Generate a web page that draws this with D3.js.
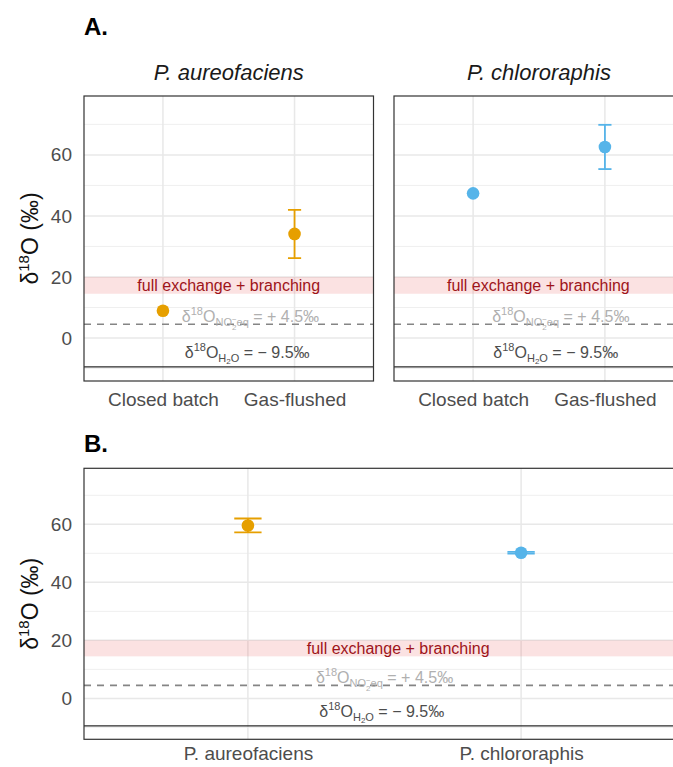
<!DOCTYPE html>
<html>
<head>
<meta charset="utf-8">
<script src="https://cdn.jsdelivr.net/npm/d3@7"></script>
<style>
  html, body { margin: 0; padding: 0; background: #fff; overflow: hidden; }
  svg { display: block; font-family: "Liberation Sans", Arial, sans-serif; }
</style>
</head>
<body>
<svg id="chart" width="673" height="767"></svg>
<script>
// ---- data ----
const strains = ["P. aureofaciens", "P. chlororaphis"];
const methods = ["Closed batch", "Gas-flushed"];
const strainColors = ["#E69F00", "#56B4E9"];

// Panel A: mean and sd of d18O per incubation method
const aureoMean = [8.9, 34.1];
const aureoSd = [null, 7.9];
const chloroMean = [47.4, 62.6];
const chloroSd = [null, 7.25];

// Panel B: mean and sd per strain
const strainMean = [59.6, 50.2];
const strainSd = [2.4, 0.3];

// reference levels
const waterLevel = -9.5;
const nitriteEqLevel = 4.5;
const exchangeBand = [14.5, 20];

const yDomain = [-14.1, 79.3];
const yMajor = [0, 20, 40, 60];
const yMinor = [-10, 10, 30, 50, 70];

// ---- drawing ----
const svg = d3.select("#chart");
const FONT_AXIS = 19;

function panel(cfg) {
  const g = svg.append("g");
  const x = d3.scalePoint().domain(cfg.cats).range([cfg.left, cfg.right]).padding(0.6);
  const step = x.step();
  // continuous companion for annotation placement (category 1 -> index 1)
  const xc = d3.scaleLinear().domain([0.4, cfg.cats.length + 0.6]).range([cfg.left, cfg.right]);
  const y = d3.scaleLinear().domain(yDomain).range([cfg.bottom, cfg.top]);

  const clipId = "clip" + cfg.id;
  svg.append("clipPath").attr("id", clipId).append("rect")
    .attr("x", cfg.left).attr("y", cfg.top)
    .attr("width", cfg.right - cfg.left).attr("height", cfg.bottom - cfg.top);
  const inner = g.append("g").attr("clip-path", `url(#${clipId})`);

  // grid
  inner.selectAll(".minor").data(yMinor).join("line")
    .attr("x1", cfg.left).attr("x2", cfg.right)
    .attr("y1", d => y(d)).attr("y2", d => y(d))
    .attr("stroke", "#efefef").attr("stroke-width", 1);
  inner.selectAll(".major").data(yMajor).join("line")
    .attr("x1", cfg.left).attr("x2", cfg.right)
    .attr("y1", d => y(d)).attr("y2", d => y(d))
    .attr("stroke", "#e8e8e8").attr("stroke-width", 1.5);
  inner.selectAll(".vmajor").data(cfg.cats).join("line")
    .attr("x1", d => x(d)).attr("x2", d => x(d))
    .attr("y1", cfg.top).attr("y2", cfg.bottom)
    .attr("stroke", "#e8e8e8").attr("stroke-width", 1.5);

  // exchange band
  inner.append("rect")
    .attr("x", cfg.left).attr("width", cfg.right - cfg.left)
    .attr("y", y(exchangeBand[1])).attr("height", y(exchangeBand[0]) - y(exchangeBand[1]))
    .attr("fill", "#e8494c").attr("fill-opacity", 0.16);
  inner.append("text")
    .attr("x", xc(cfg.bandLabelX)).attr("y", y((exchangeBand[0] + exchangeBand[1]) / 2))
    .attr("dy", "0.35em").attr("text-anchor", "middle")
    .attr("font-size", 16).attr("fill", "#9e141a")
    .text("full exchange + branching");

  // reference lines
  inner.append("line")
    .attr("x1", cfg.left).attr("x2", cfg.right)
    .attr("y1", y(nitriteEqLevel)).attr("y2", y(nitriteEqLevel))
    .attr("stroke", "#858585").attr("stroke-width", 1.6).attr("stroke-dasharray", "7,6");
  inner.append("line")
    .attr("x1", cfg.left).attr("x2", cfg.right)
    .attr("y1", y(waterLevel)).attr("y2", y(waterLevel))
    .attr("stroke", "#2b2b2b").attr("stroke-width", 1.3);

  // reference labels
  richText(inner, xc(cfg.nitriteLabelX), y(5.2), "#b0b0b0", [
    { t: "δ", s: 16, up: 0 },
    { t: "18", s: 11, up: 7 },
    { t: "O", s: 16, up: 0 },
    { t: "NO", s: 11, up: -4 },
    { t: "2", s: 8, up: -8 },
    { t: "−", s: 8, up: 0, dx: -4.5 },
    { t: "eq", s: 11, up: -4 },
    { t: " = + 4.5‰", s: 16, up: 0 }
  ]);
  richText(inner, xc(cfg.waterLabelX), y(-6.4), "#4d4d4d", [
    { t: "δ", s: 16, up: 0 },
    { t: "18", s: 11, up: 7 },
    { t: "O", s: 16, up: 0 },
    { t: "H", s: 11, up: -4 },
    { t: "2", s: 8, up: -6 },
    { t: "O", s: 11, up: -4 },
    { t: " = − 9.5‰", s: 16, up: 0 }
  ]);

  // error bars and points
  const pts = cfg.cats.map((c, i) => ({ c, m: cfg.mean[i], sd: cfg.sd[i], col: cfg.color(i) }));
  const capHalf = step * 0.05;
  const eb = inner.selectAll(".eb").data(pts.filter(d => d.sd != null)).join("g")
    .attr("stroke", d => d.col).attr("stroke-width", 1.8).attr("fill", "none");
  eb.append("line").attr("x1", d => x(d.c)).attr("x2", d => x(d.c))
    .attr("y1", d => y(d.m - d.sd)).attr("y2", d => y(d.m + d.sd));
  eb.append("line").attr("x1", d => x(d.c) - capHalf).attr("x2", d => x(d.c) + capHalf)
    .attr("y1", d => y(d.m + d.sd)).attr("y2", d => y(d.m + d.sd));
  eb.append("line").attr("x1", d => x(d.c) - capHalf).attr("x2", d => x(d.c) + capHalf)
    .attr("y1", d => y(d.m - d.sd)).attr("y2", d => y(d.m - d.sd));
  inner.selectAll(".pt").data(pts).join("circle")
    .attr("cx", d => x(d.c)).attr("cy", d => y(d.m)).attr("r", 6.3)
    .attr("fill", d => d.col);

  // border
  g.append("rect")
    .attr("x", cfg.left).attr("y", cfg.top)
    .attr("width", cfg.right - cfg.left).attr("height", cfg.bottom - cfg.top)
    .attr("fill", "none").attr("stroke", "#333").attr("stroke-width", 1.2);

  // axes
  if (cfg.yAxis) {
    const ya = g.append("g").attr("transform", `translate(${cfg.left},0)`)
      .call(d3.axisLeft(y).tickValues(yMajor).tickSize(0).tickPadding(12));
    ya.select(".domain").remove();
    ya.selectAll("text").attr("font-size", FONT_AXIS).attr("fill", "#4d4d4d")
      .attr("font-family", "Liberation Sans, Arial, sans-serif");
    // y title
    const ty = g.append("text")
      .attr("transform", `translate(38,${(cfg.top + cfg.bottom) / 2}) rotate(-90)`)
      .attr("text-anchor", "middle").attr("font-size", 23).attr("fill", "#111");
    ty.append("tspan").text("δ");
    ty.append("tspan").attr("font-size", 15).attr("dy", -9).text("18");
    ty.append("tspan").attr("dy", 9).text("O (‰)");
  }
  const xa = g.append("g").attr("transform", `translate(0,${cfg.bottom})`)
    .call(d3.axisBottom(x).tickSize(0).tickPadding(cfg.xPad));
  xa.select(".domain").remove();
  xa.selectAll("text").attr("font-size", FONT_AXIS).attr("fill", "#4d4d4d")
    .attr("font-family", "Liberation Sans, Arial, sans-serif");

  if (cfg.strip) {
    g.append("text").attr("x", (cfg.left + cfg.right) / 2).attr("y", cfg.top - 16)
      .attr("text-anchor", "middle").attr("font-size", 22).attr("font-style", "italic")
      .attr("fill", "#1a1a1a").text(cfg.strip);
  }
}

function richText(sel, cx, baseY, color, parts) {
  const t = sel.append("text").attr("x", cx).attr("y", baseY)
    .attr("text-anchor", "middle").attr("fill", color);
  let prev = 0;
  parts.forEach(p => {
    const ts = t.append("tspan").attr("font-size", p.s).attr("dy", -(p.up - prev)).text(p.t);
    if (p.dx) ts.attr("dx", p.dx);
    prev = p.up;
  });
}

// Panel A
svg.append("text").attr("x", 84).attr("y", 35).attr("font-size", 24)
  .attr("font-weight", "bold").attr("fill", "#000").text("A.");

panel({
  id: "a1", cats: methods, left: 84, right: 373.5, top: 96, bottom: 381,
  mean: aureoMean, sd: aureoSd, color: () => strainColors[0],
  strip: strains[0], yAxis: true, xPad: 12,
  bandLabelX: 1.5, nitriteLabelX: 1.665, waterLabelX: 1.64
});
panel({
  id: "a2", cats: methods, left: 394, right: 684, top: 96, bottom: 381,
  mean: chloroMean, sd: chloroSd, color: () => strainColors[1],
  strip: strains[1], yAxis: false, xPad: 12,
  bandLabelX: 1.495, nitriteLabelX: 1.665, waterLabelX: 1.627
});

// Panel B
svg.append("text").attr("x", 84).attr("y", 452).attr("font-size", 24)
  .attr("font-weight", "bold").attr("fill", "#000").text("B.");

panel({
  id: "b", cats: strains, left: 84, right: 685, top: 468.3, bottom: 739.3,
  mean: strainMean, sd: strainSd, color: i => strainColors[i],
  strip: null, yAxis: true, xPad: 7,
  bandLabelX: 1.55, nitriteLabelX: 1.5, waterLabelX: 1.49
});
</script>
</body>
</html>
